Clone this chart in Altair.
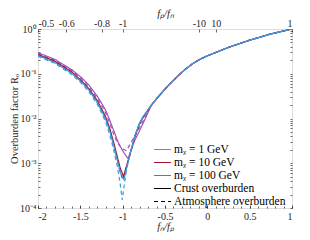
import altair as alt
import pandas as pd

FONT = "Liberation Serif"

mass_labels = ["mᵪ = 1 GeV", "mᵪ = 10 GeV", "mᵪ = 100 GeV"]
overburden_labels = ["Crust overburden", "Atmosphere overburden"]
legend_labels = mass_labels + overburden_labels
mass_colors = ["#3A9BDC", "#A2142F", "#A052B8"]
legend_colors = mass_colors + ["#000000", "#000000"]

# right branch, shared by the curves once they merge
x_right = [-0.66, -0.56, -0.46, -0.36, -0.26, -0.17, -0.09, 0, 0.25, 0.5, 0.75, 1]
lg_right = [-1.7, -1.47, -1.26, -1.07, -0.9, -0.77, -0.68, -0.6, -0.41, -0.25, -0.11, 0]

x_left = [-2, -1.8, -1.6, -1.49, -1.4, -1.3, -1.236, -1.2, -1.15, -1.1, -1.06]

# fn/fp values and log10(R_O) (left branch, dip, start of right branch)
x_1_crust = x_left + [-1.03, -0.985, -0.95, -0.914, -0.855, -0.8, -0.757]
lg_1_crust = [-0.59, -0.75, -0.99, -1.18, -1.36, -1.64, -1.88, -2.02, -2.3, -2.65, -2.95,
              -3.2, -3.37, -3.08, -2.8, -2.38, -2.1, -1.95]

x_1_atm = x_left + [-1.03, -1.005, -0.975, -0.95, -0.914, -0.855, -0.8, -0.757]
lg_1_atm = [-0.61, -0.77, -1.02, -1.21, -1.4, -1.68, -1.93, -2.08, -2.38, -2.75, -3.1,
            -3.45, -3.82, -3.4, -3.1, -2.82, -2.38, -2.1, -1.95]

x_10_crust = x_left + [-1.03, -0.99, -0.95, -0.914, -0.855, -0.8, -0.757]
lg_10_crust = [-0.57, -0.72, -0.96, -1.15, -1.33, -1.6, -1.83, -1.97, -2.24, -2.58, -2.88,
               -3.1, -3.30, -3.03, -2.8, -2.4, -2.12, -1.97]

x_10_atm = x_left + [-1.03, -1.0, -0.96, -0.914, -0.855, -0.8, -0.757]
lg_10_atm = [-0.58, -0.74, -0.98, -1.17, -1.35, -1.63, -1.86, -2.0, -2.28, -2.63, -2.95,
             -3.18, -3.36, -3.12, -2.82, -2.4, -2.12, -1.97]

x_100_crust = x_left + [-1.03, -0.98, -0.935, -0.9, -0.855, -0.8, -0.757]
lg_100_crust = [-0.53, -0.68, -0.91, -1.08, -1.25, -1.5, -1.7, -1.82, -2.05, -2.3, -2.5,
                -2.62, -2.78, -2.9, -2.7, -2.48, -2.27, -2.1]

x_100_atm = x_left + [-1.0, -0.955, -0.92, -0.855, -0.8, -0.757]
lg_100_atm = [-0.55, -0.70, -0.93, -1.11, -1.29, -1.55, -1.75, -1.88, -2.12, -2.38, -2.55,
              -2.68, -2.72, -2.6, -2.38, -2.2, -2.05]

# tick values
bottom_ticks = [-2, -1.5, -1, -0.5, 0, 0.5, 1]
bottom_minor = [round(-2 + 0.1 * i, 2) for i in range(31)]
top_ticks = [-2, -5 / 3, -1.25, -1, -0.1, 0.1, 1]  # fp/fn = -0.5, -0.6, -0.8, -1, -10, 10, 1
y_ticks = [1e-4, 1e-3, 1e-2, 1e-1, 1]
y_minor = [m * 10.0 ** k for k in range(-4, 0) for m in range(2, 10)]

curves = [
    (x_100_crust, lg_100_crust, 2, 0),
    (x_100_atm, lg_100_atm, 2, 1),
    (x_10_crust, lg_10_crust, 1, 0),
    (x_10_atm, lg_10_atm, 1, 1),
    (x_1_crust, lg_1_crust, 0, 0),
    (x_1_atm, lg_1_atm, 0, 1),
]
rows = []
for i, (xs, lgs, mi, oi) in enumerate(curves):
    for xv, lv in zip(xs + x_right, lgs + lg_right):
        rows.append({"x": xv, "R": 10.0 ** lv, "mass": mass_labels[mi],
                     "overburden": overburden_labels[oi], "series": i})
df = pd.DataFrame(rows)

legend_df = pd.DataFrame({"entry": legend_labels, "x": [float("nan")] * 5, "R": [float("nan")] * 5})

xscale = alt.Scale(domain=[-2, 1], nice=False, zero=False)
yscale = alt.Scale(type="log", domain=[1e-4, 1], nice=False)
dash = [4, 3]

common_axis = dict(grid=False, domain=False, labelFont=FONT, titleFont=FONT, labelFontSize=10,
                   titleFontSize=10.5, titleFontWeight="normal", labelColor="#262626",
                   titleColor="#262626", tickColor="#262626", tickWidth=0.7)

lines = alt.Chart(df).mark_line(strokeWidth=1.2, clip=True).encode(
    x=alt.X("x:Q", scale=xscale, axis=alt.Axis(
        orient="bottom", values=bottom_ticks, offset=-3, tickSize=3, labelPadding=3,
        labelExpr="datum.value < 0 ? '-' + format(-datum.value, '~g') : format(datum.value, '~g')",
        title="fₙ/fₚ", titleFontStyle="italic", titlePadding=0, **common_axis)),
    y=alt.Y("R:Q", scale=yscale, axis=alt.Axis(
        orient="left", values=y_ticks, offset=-3, tickSize=3, labelPadding=2,
        labelExpr="'10' + (datum.value >= 0.5 ? '⁰' : datum.value >= 0.05 ? '⁻¹' : datum.value >= 0.005 ? '⁻²' : datum.value >= 0.0005 ? '⁻³' : '⁻⁴')",
        title="Overburden factor Rₒ", titlePadding=0, **common_axis)),
    color=alt.Color("mass:N", scale=alt.Scale(domain=mass_labels, range=mass_colors), legend=None),
    strokeDash=alt.StrokeDash("overburden:N", scale=alt.Scale(domain=overburden_labels, range=[[1, 0], dash]), legend=None),
    detail="series:N",
)

top_layer = alt.Chart(df).mark_line(opacity=0).encode(
    x=alt.X("x:Q", scale=xscale, axis=alt.Axis(
        orient="top", values=top_ticks, offset=-3, tickSize=3, labelPadding=1,
        labelExpr="(1/datum.value < 0 ? '-' : '') + format(abs(1/datum.value), '.2~g')",
        title="fₚ/fₙ", titleFontStyle="italic", titlePadding=0, **common_axis)),
    y=alt.Y("R:Q", scale=yscale, axis=alt.Axis(
        orient="left", values=y_minor, offset=-2, tickSize=2, labels=False, title=None, **common_axis)),
    detail="series:N",
)

minor_layer = alt.Chart(df).mark_line(opacity=0).encode(
    x=alt.X("x:Q", scale=xscale, axis=alt.Axis(
        orient="bottom", values=bottom_minor, offset=-2, tickSize=2, labels=False, title=None, **common_axis)),
    y=alt.Y("R:Q", scale=yscale, axis=alt.Axis(
        orient="right", values=y_ticks + y_minor, offset=-2, tickSize=2, labels=False, title=None, **common_axis)),
    detail="series:N",
)

legend_opts = dict(title=None, orient="none", legendX=117, legendY=113,
                   symbolType="M-1.3,0H1.3", symbolSize=170, symbolStrokeWidth=1.2,
                   labelFont=FONT, labelFontSize=11.5, labelColor="#000000",
                   labelOffset=4, rowPadding=0, padding=0)

legend_layer = alt.Chart(legend_df).mark_line(strokeWidth=1.2).encode(
    x=alt.X("x:Q", scale=xscale, axis=None),
    y=alt.Y("R:Q", scale=yscale, axis=None),
    color=alt.Color("entry:N", scale=alt.Scale(domain=legend_labels, range=legend_colors),
                    legend=alt.Legend(**legend_opts)),
    strokeDash=alt.StrokeDash("entry:N", scale=alt.Scale(domain=legend_labels, range=[[1, 0]] * 4 + [dash]),
                              legend=alt.Legend(**legend_opts)),
)

chart = alt.layer(lines, top_layer, minor_layer, legend_layer).resolve_scale(
    color="independent", strokeDash="independent"
).resolve_axis(x="independent", y="independent").properties(
    width=254, height=179,
    padding={"left": 30, "top": 21, "right": 10, "bottom": 24},
    autosize=alt.AutoSizeParams(type="none"),
).configure_view(stroke="#262626", strokeWidth=0.8).configure(background="white")

chart.save("out.html", embed_options={"renderer": "svg", "actions": False})
